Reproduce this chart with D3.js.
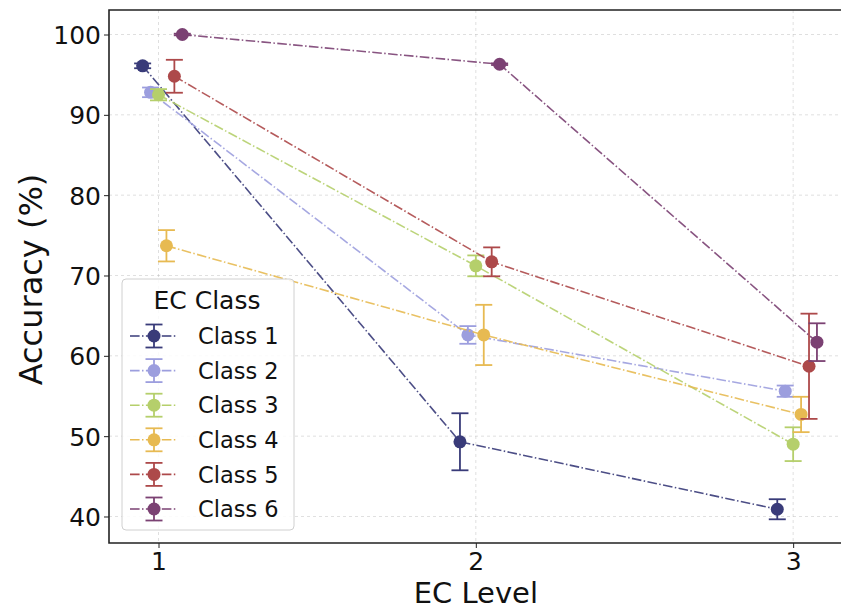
<!DOCTYPE html>
<html>
<head>
<meta charset="utf-8">
<script src="https://cdn.jsdelivr.net/npm/d3@7"></script>
<style>
  html, body { margin: 0; padding: 0; background: #fff; }
  svg { display: block; font-family: "DejaVu Sans", sans-serif; }
</style>
</head>
<body>
<svg id="chart" width="841" height="610"></svg>
<script>
// EC levels on the x axis and the class series drawn at each level
const levels = [1, 2, 3];
const classNames = ["Class 1", "Class 2", "Class 3", "Class 4", "Class 5", "Class 6"];
const classColors = ["#393b79", "#9c9ede", "#b5cf6b", "#e7ba52", "#ad494a", "#7b4173"];

// mean accuracy (%) per class at levels 1, 2, 3
const meanClass1 = [96.1, 49.3, 40.9];
const meanClass2 = [92.8, 62.6, 55.6];
const meanClass3 = [92.5, 71.2, 49.0];
const meanClass4 = [73.7, 62.6, 52.7];
const meanClass5 = [94.8, 71.7, 58.7];
const meanClass6 = [100.0, 96.3, 61.7];

// error-bar half-widths per class at levels 1, 2, 3
const errClass1 = [0.3, 3.55, 1.25];
const errClass2 = [0.6, 1.1, 0.7];
const errClass3 = [0.7, 1.3, 2.1];
const errClass4 = [1.95, 3.75, 2.2];
const errClass5 = [2.05, 1.8, 6.55];
const errClass6 = [0.1, 0.1, 2.35];

const yTicks = [40, 50, 60, 70, 80, 90, 100];

const means = [meanClass1, meanClass2, meanClass3, meanClass4, meanClass5, meanClass6];
const errs = [errClass1, errClass2, errClass3, errClass4, errClass5, errClass6];

// horizontal dodge so the classes do not overlap at a level
const dodge = i => (i - 2) * 0.025;

const series = classNames.map((name, i) => ({
  name, color: classColors[i],
  pts: levels.map((lv, j) => ({ x: lv + dodge(i), y: means[i][j], e: errs[i][j] }))
}));

const svg = d3.select("#chart");
const M = { left: 109, top: 10, bottom: 543, right: 849 };

const x = d3.scaleLinear().domain([0.844, 3.176]).range([M.left, M.right]);
const y = d3.scaleLinear().domain([36.7, 103.05]).range([M.bottom, M.top]);

// grid
const grid = svg.append("g");
grid.selectAll(".gy").data(yTicks).join("line")
  .attr("x1", M.left).attr("x2", M.right)
  .attr("y1", d => y(d)).attr("y2", d => y(d))
  .attr("stroke", "#b0b0b0").attr("stroke-opacity", 0.5)
  .attr("stroke-width", 0.8).attr("stroke-dasharray", "3,3");
grid.selectAll(".gx").data(levels).join("line")
  .attr("y1", M.top).attr("y2", M.bottom)
  .attr("x1", d => x(d)).attr("x2", d => x(d))
  .attr("stroke", "#b0b0b0").attr("stroke-opacity", 0.5)
  .attr("stroke-width", 0.8).attr("stroke-dasharray", "3,3");

// axes
const xAxis = svg.append("g").attr("transform", `translate(0,${M.bottom})`)
  .call(d3.axisBottom(x).tickValues(levels).tickFormat(d3.format("d")).tickSize(5).tickPadding(5));
const yAxis = svg.append("g").attr("transform", `translate(${M.left},0)`)
  .call(d3.axisLeft(y).tickValues(yTicks).tickSize(5).tickPadding(3));
[xAxis, yAxis].forEach(a => {
  a.select(".domain").remove();
  a.selectAll(".tick line").attr("stroke", "#222").attr("stroke-width", 1);
  a.selectAll(".tick text").attr("fill", "#111").style("font-size", "25px")
    .style("font-family", "DejaVu Sans, sans-serif");
});
xAxis.selectAll(".tick text").attr("dy", "0.68em");
yAxis.selectAll(".tick text").attr("dy", "0.36em");

// frame
svg.append("path")
  .attr("d", `M${M.right},${M.top}H${M.left}V${M.bottom}H${M.right}`)
  .attr("fill", "none").attr("stroke", "#222").attr("stroke-width", 1.6);

// axis titles
svg.append("text").attr("x", x(2)).attr("y", 603)
  .attr("text-anchor", "middle").style("font-size", "29px").attr("fill", "#111")
  .text("EC Level");
svg.append("text").attr("transform", `translate(42,${(M.top + M.bottom) / 2 + 3}) rotate(-90)`)
  .attr("text-anchor", "middle").style("font-size", "32px").attr("fill", "#111")
  .text("Accuracy (%)");

const dashDot = "9.6,2.4,1.5,2.4";
const cap = 8.5;
const line = d3.line().x(d => x(d.x)).y(d => y(d.y));

const plot = svg.append("g");
series.forEach(s => {
  const g = plot.append("g");
  g.append("path").datum(s.pts).attr("d", line)
    .attr("fill", "none").attr("stroke", s.color).attr("stroke-width", 1.6)
    .attr("stroke-opacity", 0.9).attr("stroke-dasharray", dashDot);
  const eb = g.selectAll(".eb").data(s.pts).join("g");
  eb.append("line")
    .attr("x1", d => x(d.x)).attr("x2", d => x(d.x))
    .attr("y1", d => y(d.y - d.e)).attr("y2", d => y(d.y + d.e))
    .attr("stroke", s.color).attr("stroke-width", 1.8);
  [-1, 1].forEach(sg => {
    eb.append("line")
      .attr("x1", d => x(d.x) - cap).attr("x2", d => x(d.x) + cap)
      .attr("y1", d => y(d.y + sg * d.e)).attr("y2", d => y(d.y + sg * d.e))
      .attr("stroke", s.color).attr("stroke-width", 1.8);
  });
  g.selectAll("circle").data(s.pts).join("circle")
    .attr("cx", d => x(d.x)).attr("cy", d => y(d.y)).attr("r", 6.5)
    .attr("fill", s.color);
});

// legend
const lg = svg.append("g");
lg.append("rect").attr("x", 122).attr("y", 279).attr("width", 172).attr("height", 251)
  .attr("rx", 4).attr("fill", "#fff").attr("fill-opacity", 0.85)
  .attr("stroke", "#d0d0d0").attr("stroke-width", 1);
lg.append("text").attr("x", 207).attr("y", 309).attr("text-anchor", "middle")
  .style("font-size", "25px").attr("fill", "#111").text("EC Class");
series.forEach((s, i) => {
  const cy = 336 + i * 34.6;
  const row = lg.append("g");
  row.append("line").attr("x1", 130).attr("x2", 177).attr("y1", cy).attr("y2", cy)
    .attr("stroke", s.color).attr("stroke-width", 1.6).attr("stroke-dasharray", dashDot);
  row.append("line").attr("x1", 154).attr("x2", 154).attr("y1", cy - 11.5).attr("y2", cy + 11.5)
    .attr("stroke", s.color).attr("stroke-width", 1.8);
  [-11.5, 11.5].forEach(o => row.append("line")
    .attr("x1", 154 - cap).attr("x2", 154 + cap).attr("y1", cy + o).attr("y2", cy + o)
    .attr("stroke", s.color).attr("stroke-width", 1.8));
  row.append("circle").attr("cx", 154).attr("cy", cy).attr("r", 6.5).attr("fill", s.color);
  row.append("text").attr("x", 198).attr("y", cy).attr("dy", "0.36em")
    .style("font-size", "22.5px").attr("fill", "#111").text(s.name);
});
</script>
</body>
</html>
